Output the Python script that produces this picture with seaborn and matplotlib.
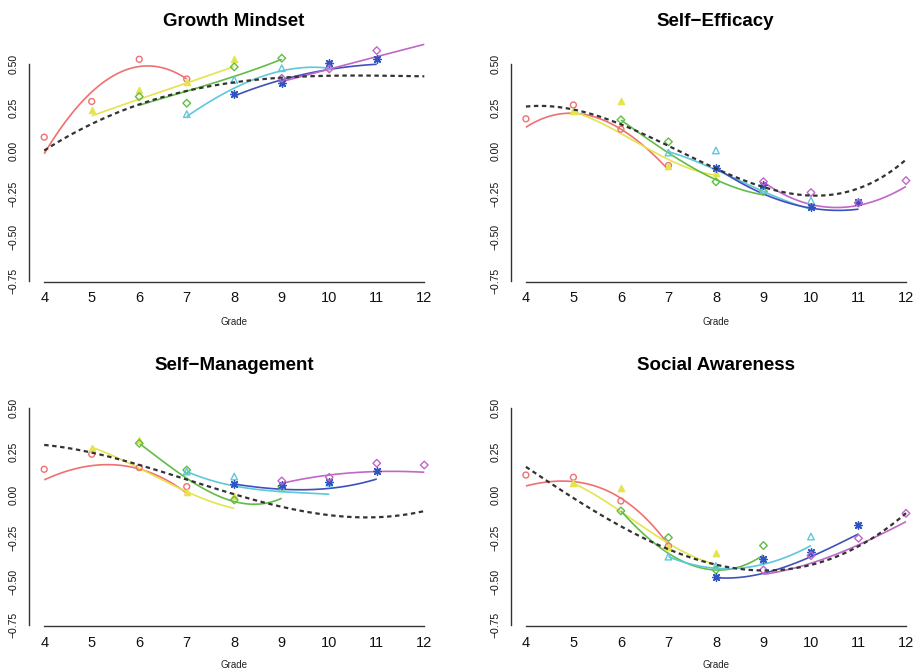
import numpy as np
import pandas as pd
import matplotlib
matplotlib.use("Agg")
import matplotlib.pyplot as plt
import seaborn as sns

nan = np.nan

# ---------------- data ----------------
grades = [4, 5, 6, 7, 8, 9, 10, 11, 12]
cohort_start = [4, 5, 6, 7, 8, 9]          # each cohort observed over 4 grades
cohort_names = ["Cohort 1", "Cohort 2", "Cohort 3", "Cohort 4", "Cohort 5", "Cohort 6"]
panel_titles = ["Growth Mindset", "Self\u2212Efficacy", "Self\u2212Management", "Social Awareness"]
y_ticks = [0.50, 0.25, 0.00, -0.25, -0.50, -0.75]
x_label = "Grade"

# Growth Mindset
gm_obs = [
    [0.079, 0.285, 0.529, 0.415],
    [0.237, 0.352, 0.398, 0.531],
    [0.313, 0.275, 0.485, 0.535],
    [0.212, 0.410, 0.477, 0.490],
    [0.329, 0.394, 0.506, 0.529],
    [0.419, 0.473, 0.579, nan],
]
gm_fit = [
    [-0.017, 0.340, 0.487, 0.415],
    [0.202, 0.298, 0.392, 0.487],
    [0.263, 0.345, 0.430, 0.529],
    [0.198, 0.362, 0.462, 0.477],
    [0.317, 0.410, 0.470, 0.500],
    [0.400, 0.472, 0.544, 0.615],
]
gm_overall = [0.0, 0.160, 0.265, 0.342, 0.400, 0.423, 0.433, 0.433, 0.431]

# Self-Efficacy
se_obs = [
    [0.185, 0.265, 0.125, -0.085],
    [0.231, 0.290, -0.085, -0.129],
    [0.179, 0.052, -0.179, -0.235],
    [-0.010, 0.002, -0.226, -0.287],
    [-0.100, -0.197, -0.325, -0.293],
    [-0.178, -0.241, -0.302, -0.172],
]
se_fit = [
    [0.136, 0.217, 0.125, -0.110],
    [0.226, 0.100, -0.050, -0.140],
    [0.178, -0.012, -0.167, -0.254],
    [-0.005, -0.110, -0.235, -0.337],
    [-0.097, -0.249, -0.331, -0.337],
    [-0.180, -0.310, -0.315, -0.206],
]
se_overall = [0.255, 0.238, 0.160, 0.020, -0.105, -0.205, -0.252, -0.226, -0.048]

# Self-Management
sm_obs = [
    [0.148, 0.235, 0.158, 0.048],
    [0.273, 0.315, 0.015, -0.006],
    [0.298, 0.144, -0.029, 0.048],
    [0.135, 0.106, 0.038, 0.071],
    [0.063, 0.058, 0.073, 0.138],
    [0.081, 0.102, 0.183, 0.173],
]
sm_fit = [
    [0.087, 0.169, 0.150, 0.010],
    [0.275, 0.154, 0.019, -0.077],
    [0.298, 0.096, -0.038, -0.019],
    [0.135, 0.052, 0.019, 0.004],
    [0.063, 0.033, 0.038, 0.092],
    [0.067, 0.115, 0.135, 0.131],
]
sm_overall = [0.288, 0.246, 0.173, 0.087, 0.004, -0.067, -0.115, -0.131, -0.092]

# Social Awareness
sa_obs = [
    [0.115, 0.102, -0.035, -0.294],
    [0.067, 0.042, -0.298, -0.337],
    [-0.092, -0.246, -0.433, -0.292],
    [-0.356, -0.410, -0.375, -0.240],
    [-0.471, -0.369, -0.331, -0.173],
    [-0.433, -0.350, -0.250, -0.106],
]
sa_fit = [
    [0.052, 0.077, -0.019, -0.288],
    [0.067, -0.096, -0.279, -0.400],
    [-0.092, -0.337, -0.433, -0.346],
    [-0.356, -0.423, -0.400, -0.292],
    [-0.477, -0.452, -0.356, -0.225],
    [-0.458, -0.394, -0.288, -0.154],
]
sa_overall = [0.163, -0.019, -0.183, -0.308, -0.404, -0.438, -0.404, -0.294, -0.106]

# ---------------- style ----------------
line_colors = ["#F07070", "#E4E44E", "#62BC48", "#5CC8DA", "#3F50BC", "#C067C8"]
marker_colors = ["#F07070", "#E4E44E", "#62BC48", "#5CC8DA", "#2F55C4", "#C067C8"]
markers = ["o", "^", "D", "^", (8, 2, 0), "D"]
marker_filled = [False, True, False, False, True, False]
marker_sizes = [18, 20, 15, 22, 30, 15]

sns.set_style("white")
plt.rcParams["font.family"] = ["Liberation Sans", "DejaVu Sans"]
plt.rcParams["axes.unicode_minus"] = True
plt.rcParams["text.color"] = "black"

W, H = 918, 671
fig = plt.figure(figsize=(W / 100, H / 100), dpi=100)

def px_axes(x0, x1, ytop, ybot):
    return fig.add_axes([x0 / W, 1 - ybot / H, (x1 - x0) / W, (ybot - ytop) / H])

panels = [
    (gm_obs, gm_fit, gm_overall, px_axes(29, 439.5, 38.3, 281.5), 234, 26),
    (se_obs, se_fit, se_overall, px_axes(510.7, 921.2, 38.3, 281.5), 715.7, 26),
    (sm_obs, sm_fit, sm_overall, px_axes(29, 439.5, 382.3, 625.8), 234, 370),
    (sa_obs, sa_fit, sa_overall, px_axes(510.7, 921.2, 382.3, 625.8), 715.7, 370),
]

for (obs, fit, overall, ax, tx, ty), title in zip(panels, panel_titles):
    for i, start in enumerate(cohort_start):
        xs = list(range(start, start + 4))
        df = pd.DataFrame({"grade": xs, "obs": obs[i], "fit": fit[i]})
        # fitted cohort trajectory
        sns.regplot(data=df, x="grade", y="fit", order=3, ci=None, scatter=False,
                    truncate=True, color=line_colors[i],
                    line_kws=dict(lw=1.2, solid_capstyle="butt"), ax=ax)
        # observed cohort means
        n0 = len(ax.collections)
        sns.scatterplot(data=df.dropna(), x="grade", y="obs", marker=markers[i],
                        s=marker_sizes[i], color=marker_colors[i], ax=ax, zorder=3)
        for coll in ax.collections[n0:]:
            if marker_filled[i]:
                coll.set_facecolor(marker_colors[i])
            else:
                coll.set_facecolor("none")
            coll.set_edgecolor(marker_colors[i])
            coll.set_linewidth(1.0)
    # overall trajectory
    dfo = pd.DataFrame({"grade": grades, "val": overall})
    sns.regplot(data=dfo, x="grade", y="val", order=4, ci=None, scatter=False,
                truncate=True, color="#333333",
                line_kws=dict(lw=1.6, linestyle=(0, (2.0, 1.6)), zorder=4), ax=ax)

    ax.set_xlim(3.68, 12.32)
    ax.set_ylim(-0.755, 0.65)
    ax.set_xlabel("")
    ax.set_ylabel("")
    for s in ["top", "right"]:
        ax.spines[s].set_visible(False)
    for s in ["left", "bottom"]:
        ax.spines[s].set_color("#333333")
        ax.spines[s].set_linewidth(1.0)
    ax.spines["left"].set_bounds(-0.75, 0.5)
    ax.spines["bottom"].set_bounds(4, 12)
    ax.set_xticks(grades)
    ax.set_xticklabels([str(g) for g in grades])
    ax.set_yticks(y_ticks)
    ax.set_yticklabels([f"{v:.2f}".replace("-", "\u2212") for v in y_ticks],
                       rotation=90, va="center")
    ax.tick_params(axis="x", length=4.5, width=1, color="#333333",
                   labelsize=10.5, pad=2.5, labelcolor="#111111")
    ax.tick_params(axis="y", length=4.5, width=1, color="#333333",
                   labelsize=7.5, pad=3, labelcolor="#111111")
    ax.patch.set_alpha(0)

    fig.text(tx / W, 1 - ty / H, title, fontsize=13.5, fontweight="bold",
             ha="center", va="baseline", color="black")
    gy = 321.7 if ty < 100 else 665
    fig.text(tx / W, 1 - gy / H, x_label, fontsize=7, ha="center", va="center",
             color="#222222")

fig.savefig("out.png", dpi=100)
